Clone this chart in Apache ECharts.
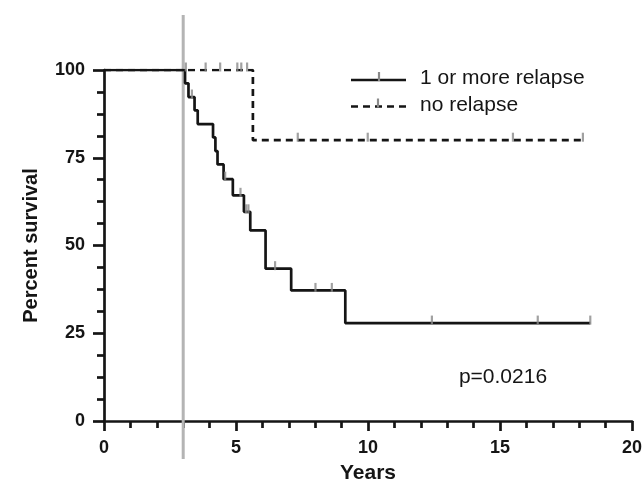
<!DOCTYPE html>
<html>
<head>
<meta charset="utf-8">
<script src="https://cdn.jsdelivr.net/npm/echarts@6/dist/echarts.min.js"></script>
<style>
  html, body { margin: 0; padding: 0; background: #fff; }
  #main { width: 643px; height: 486px; }
</style>
</head>
<body>
<div id="main"></div>
<script>
// ---------- data
// "1 or more relapse" : time (years) where the curve drops, survival after the drop
var relapseTimes = [0, 3.07, 3.2, 3.43, 3.55, 4.13, 4.22, 4.3, 4.53, 4.88, 5.3, 5.54, 6.12, 7.09, 9.14, 18.42];
var relapseSurv = [100, 96.2, 92.3, 88.5, 84.6, 80.8, 76.9, 73.1, 68.9, 64.3, 59.6, 54.3, 43.4, 37.2, 27.9, 27.9];
// censored patients (gray ticks)
var relapseCensTimes = [3.33, 4.59, 5.17, 5.38, 5.47, 6.48, 8.01, 8.63, 12.42, 16.43, 18.42];
var relapseCensSurv = [92.3, 68.9, 64.3, 59.6, 59.6, 43.4, 37.2, 37.2, 27.9, 27.9, 27.9];

// "no relapse"
var noRelapseTimes = [0, 5.64, 18.14];
var noRelapseSurv = [100, 80, 80];
var noRelapseCensTimes = [3.1, 3.85, 4.4, 5.05, 5.2, 5.42, 7.34, 9.99, 15.49, 18.14];
var noRelapseCensSurv = [100, 100, 100, 100, 100, 100, 80, 80, 80, 80];

var xTicks = [0, 5, 10, 15, 20];
var yTicks = [0, 25, 50, 75, 100];
var cutoffYear = 3; // gray vertical line
var pValue = "p=0.0216";

// ---------- helpers
const pairs = (xs, ys) => xs.map((x, i) => [x, ys[i]]);
var font = "Liberation Sans";
var black = "#151515";
var gray = "#8a8a8a";

var myChart = echarts.init(document.getElementById("main"));

var option = {
  animation: false,
  backgroundColor: "#fff",
  // fixed plot box, don't let labels push it around
  grid: { left: 104, right: 11, top: 70, bottom: 65, containLabel: false, outerBoundsMode: "none" },
  xAxis: {
    type: "value",
    min: xTicks[0],
    max: xTicks[xTicks.length - 1],
    interval: xTicks[1] - xTicks[0],
    name: "Years",
    nameLocation: "middle",
    nameGap: 42,
    nameTextStyle: { fontFamily: font, fontWeight: "bold", fontSize: 21, color: black },
    axisLine: { lineStyle: { color: black, width: 2.7 } },
    axisTick: { length: 10, lineStyle: { color: black, width: 2.7 } },
    minorTick: { show: true, splitNumber: 5, length: 7, lineStyle: { color: black, width: 2.7 } },
    axisLabel: { margin: 18, fontFamily: font, fontWeight: "bold", fontSize: 18, color: black },
    splitLine: { show: false },
  },
  yAxis: {
    type: "value",
    min: yTicks[0],
    max: yTicks[yTicks.length - 1],
    interval: yTicks[1] - yTicks[0],
    name: "Percent survival",
    nameLocation: "middle",
    nameRotate: 90,
    nameGap: 63,
    nameTextStyle: { fontFamily: font, fontWeight: "bold", fontSize: 20, color: black },
    axisLine: { lineStyle: { color: black, width: 2.7 } },
    axisTick: { length: 11, lineStyle: { color: black, width: 2.7 } },
    minorTick: { show: true, splitNumber: 4, length: 7, lineStyle: { color: black, width: 2.7 } },
    axisLabel: { margin: 19, fontFamily: font, fontWeight: "bold", fontSize: 18, color: black },
    splitLine: { show: false },
  },
  series: [
    {
      name: "no relapse",
      type: "line",
      step: "end",
      symbol: "none",
      data: pairs(noRelapseTimes, noRelapseSurv),
      lineStyle: { color: black, width: 2.7, type: [7, 5] },
      z: 3,
    },
    {
      name: "1 or more relapse",
      type: "line",
      step: "end",
      symbol: "none",
      data: pairs(relapseTimes, relapseSurv),
      lineStyle: { color: black, width: 2.7 },
      z: 4,
    },
    {
      type: "scatter",
      symbol: "rect",
      symbolSize: [2.2, 9],
      symbolOffset: [0, -3],
      data: pairs(relapseCensTimes, relapseCensSurv).concat(pairs(noRelapseCensTimes, noRelapseCensSurv)),
      itemStyle: { color: gray },
      z: 5,
    },
  ],
};

myChart.setOption(option);

// gray vertical line at the cutoff, runs past the plot area
var cx = myChart.convertToPixel({ xAxisIndex: 0 }, cutoffYear);

// legend + p value drawn by hand (the ticks in the middle of the legend lines)
var legX = 351, legW = 55;
myChart.setOption({
  graphic: [
    {
      type: "line",
      z: 1,
      shape: { x1: cx, y1: 15, x2: cx, y2: 459 },
      style: { stroke: "#b4b4b4", lineWidth: 3 },
    },
    {
      type: "line",
      z: 10,
      shape: { x1: legX, y1: 80, x2: legX + legW, y2: 80 },
      style: { stroke: black, lineWidth: 2.7 },
    },
    {
      type: "line",
      z: 11,
      shape: { x1: legX + 28, y1: 72, x2: legX + 28, y2: 81 },
      style: { stroke: gray, lineWidth: 2.2 },
    },
    {
      type: "line",
      z: 10,
      shape: { x1: legX, y1: 106.5, x2: legX + legW, y2: 106.5 },
      style: { stroke: black, lineWidth: 2.7, lineDash: [7, 5] },
    },
    {
      type: "line",
      z: 11,
      shape: { x1: legX + 27, y1: 98.5, x2: legX + 27, y2: 107.5 },
      style: { stroke: gray, lineWidth: 2.2 },
    },
    {
      type: "text",
      z: 10,
      x: 420,
      y: 78,
      style: { text: "1 or more relapse", fontFamily: font, fontSize: 21, fill: black, verticalAlign: "middle" },
    },
    {
      type: "text",
      z: 10,
      x: 420,
      y: 105,
      style: { text: "no relapse", fontFamily: font, fontSize: 21, fill: black, verticalAlign: "middle" },
    },
    {
      type: "text",
      z: 10,
      x: 503,
      y: 377,
      style: { text: pValue, fontFamily: font, fontSize: 21, fill: black, align: "center", verticalAlign: "middle" },
    },
  ],
});
</script>
</body>
</html>
